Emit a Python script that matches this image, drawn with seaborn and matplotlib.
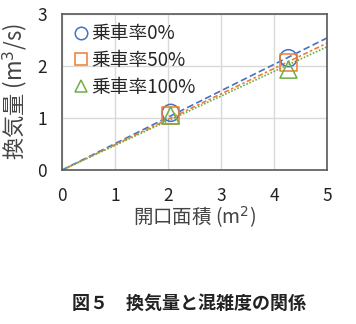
import matplotlib.pyplot as plt
import seaborn as sns
import pandas as pd
from matplotlib.lines import Line2D

# 開口面積と換気量
labels = ['乗車率0%', '乗車率50%', '乗車率100%']
area = [2.05, 4.27]
flow_0 = [1.10, 2.15]
flow_50 = [1.05, 2.07]
flow_100 = [1.05, 1.93]
# 近似直線 (原点を通る), x=0 と x=5 の値
trend_x = [0, 5]
trend_0 = [0, 2.54]
trend_50 = [0, 2.44]
trend_100 = [0, 2.37]

colors = ['#4472C4', '#ED7D31', '#70AD47']
markers = ['o', 's', '^']
styles = [(0, (4, 2)), (0, (1.5, 1.5, 3, 1.5)), (0, (1, 1))]

sns.set_style('white')
plt.rcParams['font.family'] = ['Noto Sans CJK JP', 'DejaVu Sans']

df = pd.DataFrame({
    'area': area * 3,
    'flow': flow_0 + flow_50 + flow_100,
    'case': [labels[0]] * 2 + [labels[1]] * 2 + [labels[2]] * 2,
})

fig = plt.figure(figsize=(3.56, 3.24), dpi=100)
ax = fig.add_axes([0.174, 0.475, 0.745, 0.482])

for lab, tr, c, ls in zip(labels, [trend_0, trend_50, trend_100], colors, styles):
    sns.lineplot(x=trend_x, y=tr, ax=ax, color=c, linestyle=ls, linewidth=1.2)

for lab, c, m in zip(labels, colors, markers):
    sub = df[df['case'] == lab]
    ax.scatter(sub['area'], sub['flow'], s=150, marker=m, facecolors='none',
               edgecolors=c, linewidths=1.1, zorder=3)

ax.set_xlim(0, 5)
ax.set_ylim(0, 3)
ax.set_xticks([0, 1, 2, 3, 4, 5])
ax.set_yticks([0, 1, 2, 3])
ax.grid(True, color='#d9d9d9', linewidth=1)
for s in ax.spines.values():
    s.set_color('#595959')
    s.set_linewidth(1.2)
ax.tick_params(axis='x', length=0, labelsize=12.5, colors='#222222', pad=12)
ax.tick_params(axis='y', length=0, labelsize=12.5, colors='#222222', pad=11)
ax.set_xlabel('開口面積 (m$^2$)', fontsize=14, color='#444444', labelpad=0)
ax.set_ylabel('換気量 (m$^3$/s)', fontsize=16, color='#444444', labelpad=6)

handles = [Line2D([], [], marker=m, linestyle='none', markersize=9,
                  markerfacecolor='none', markeredgecolor=c, markeredgewidth=1.1)
           for c, m in zip(colors, markers)]
ax.legend(handles, labels, loc='upper left', frameon=False, fontsize=13.5,
          handletextpad=0.05, handlelength=1.0, borderaxespad=0.2,
          labelspacing=0.3, borderpad=0.3, bbox_to_anchor=(0.0, 1.0))

fig.text(0.53, 0.065, '図５　換気量と混雑度の関係', ha='center', va='center',
         fontsize=13, fontweight='bold', color='#222222')

fig.savefig('out.png', dpi=100, facecolor='white')
